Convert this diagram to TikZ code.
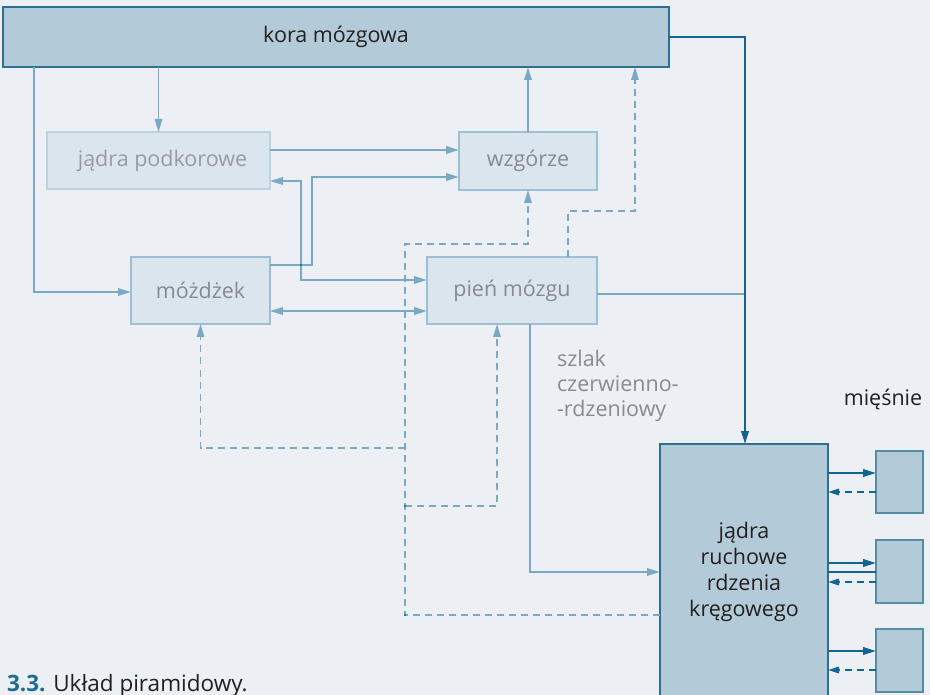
\documentclass[tikz,border=0pt]{standalone}
\usepackage{fontspec}
\setmainfont{Open Sans}
\usetikzlibrary{arrows.meta}
\definecolor{bgc}{HTML}{ECF0F5}
\definecolor{darkfill}{HTML}{B3CBD8}
\definecolor{darkedge}{HTML}{2C6F90}
\definecolor{lightfill}{HTML}{DAE5EE}
\definecolor{lightedge}{HTML}{9CC0D2}
\definecolor{paleedge}{HTML}{B9D3E0}
\definecolor{lb}{HTML}{7AAAC3}
\definecolor{dk}{HTML}{11668F}
\definecolor{greytxt}{HTML}{868B90}
\definecolor{blacktxt}{HTML}{231F20}
\definecolor{capblue}{HTML}{1B6B92}
\tikzset{
  every node/.style={inner sep=0pt, outer sep=0pt},
  txt/.style={font=\fontsize{21.5}{26}\selectfont},
  darkbox/.style={draw=darkedge, fill=darkfill, line width=1.5pt, rectangle, txt, text=blacktxt},
  lightbox/.style={draw=lightedge, fill=lightfill, line width=1.5pt, rectangle, txt, text=greytxt},
  musbox/.style={draw=darkedge!80, fill=darkfill, line width=1.5pt, rectangle, minimum width=47pt, minimum height=62pt},
  la/.style={draw=lb, line width=1.6pt, -{Triangle[length=13pt,width=7.5pt]}},
  lathick/.style={draw=lb, line width=2.1pt, -{Triangle[length=13pt,width=7.5pt]}},
  lboth/.style={draw=lb, line width=2.2pt, {Triangle[length=13pt,width=7.5pt]}-{Triangle[length=13pt,width=7.5pt]}},
  lline/.style={draw=lb, line width=1.8pt},
  ld/.style={draw=lb, line width=1.5pt, dash pattern=on 7pt off 5pt, -{Triangle[length=13pt,width=7.5pt]}},
  da/.style={draw=dk, line width=2.2pt, -{Triangle[length=13pt,width=7.5pt]}},
  dline/.style={draw=dk, line width=2.2pt},
  dd/.style={draw=dk, line width=1.6pt, dash pattern=on 7pt off 5pt, -{Triangle[length=11pt,width=6.5pt]}},
}
\begin{document}
\begin{tikzpicture}[x=1pt,y=-1pt]
\fill[bgc] (0,0) rectangle (930,695);
\useasboundingbox (0,0) rectangle (930,695);

% helper coordinates
\coordinate (X34) at (34,0);
\coordinate (X301) at (301,0);
\coordinate (X312) at (312,0);
\coordinate (X405) at (405,0);
\coordinate (X497) at (497,0);
\coordinate (X530) at (530,0);
\coordinate (X568) at (568,0);
\coordinate (X635) at (635,0);
\coordinate (X745) at (745,0);
\coordinate (Y150) at (0,150);
\coordinate (Y177) at (0,177);
\coordinate (Y181) at (0,181);
\coordinate (Y211) at (0,211);
\coordinate (Y244) at (0,244);
\coordinate (Y265) at (0,265);
\coordinate (Y280) at (0,280);
\coordinate (Y292) at (0,292);
\coordinate (Y294) at (0,294);
\coordinate (Y311) at (0,311);
\coordinate (Y448) at (0,448);
\coordinate (Y473) at (0,473);
\coordinate (Y492) at (0,492);
\coordinate (Y506) at (0,506);
\coordinate (Y563) at (0,563);
\coordinate (Y572) at (0,572);
\coordinate (Y582) at (0,582);
\coordinate (Y615) at (0,615);
\coordinate (Y651) at (0,651);
\coordinate (Y670) at (0,670);

% boxes
\node[darkbox, minimum width=666pt, minimum height=60pt] (kora) at (336,37) {kora mózgowa};
\node[lightbox, draw=paleedge, minimum width=223pt, minimum height=57pt, text=greytxt!85] (podk) at (158.5,160.5) {\hspace{8pt}jądra podkorowe};
\node[lightbox, minimum width=138pt, minimum height=58pt] (wzg) at (528,161) {wzgórze};
\node[lightbox, minimum width=139pt, minimum height=67pt] (mozd) at (200.5,290.5) {móżdżek};
\node[lightbox, minimum width=170pt, minimum height=67pt] (pien) at (512,290.5) {pień mózgu};
\node[darkbox, minimum width=168pt, minimum height=256pt, align=center] (rdzen) at (744,572) {jądra\\ruchowe\\rdzenia\\kręgowego};
\node[musbox] (mus1) at (899.5,482) {};
\node[musbox, minimum height=63pt] (mus2) at (899.5,571.5) {};
\node[musbox, minimum height=63pt] (mus3) at (899.5,660.5) {};

% labels
\node[txt, text=blacktxt] (miesnie) at (883,399) {mięśnie};
\node[text=greytxt, align=left, anchor=north west, font=\fontsize{21.5}{25}\selectfont] (szlak) at (557,350) {szlak\\czerwienno-\\-rdzeniowy};
\node[anchor=base west, font=\fontsize{22.5}{27}\selectfont] (caption) at (7,691) {\textcolor{capblue}{\bfseries 3.3.} \textcolor{blacktxt}{Układ piramidowy.}};

% light solid connectors
\draw[la] (kora.south -| X34) |- (mozd.west |- Y292);
\draw[la] (kora.south -| podk.north) -- (podk.north);
\draw[lathick] (podk.east |- Y150) -- (wzg.west |- Y150);
\draw[la] (wzg.north) -- (kora.south -| wzg.north);
\draw[lathick] (mozd.east |- Y265) -| (X312 |- Y177) -- (wzg.west |- Y177);
\draw[la] (X301 |- Y265) |- (podk.east |- Y181);
\draw[la] (X301 |- Y265) |- (pien.west |- Y280);
\draw[lboth] (mozd.east |- Y311) -- (pien.west |- Y311);
\draw[lline] (pien.east |- Y294) -- (X745 |- Y294);
\draw[la] (pien.south -| X530) |- (rdzen.west |- Y572);

% light dashed connectors
\draw[ld] (pien.north -| X568) |- (X635 |- Y211) -- (kora.south -| X635);
\draw[ld] (rdzen.west |- Y615) -| (X405 |- Y244) -| (wzg.south);
\draw[ld] (X405 |- Y448) -| (mozd.south);
\draw[ld] (X405 |- Y506) -| (pien.south -| X497);

% dark connectors
\draw[da] (kora.east) -| (rdzen.north -| X745);
\draw[da] (rdzen.east |- Y473) -- (mus1.west |- Y473);
\draw[dd] (mus1.west |- Y492) -- (rdzen.east |- Y492);
\draw[da] (rdzen.east |- Y563) -- (mus2.west |- Y563);
\draw[dline] (rdzen.east |- Y572) -- (mus2.west |- Y572);
\draw[dd] (mus2.west |- Y582) -- (rdzen.east |- Y582);
\draw[da] (rdzen.east |- Y651) -- (mus3.west |- Y651);
\draw[dd] (mus3.west |- Y670) -- (rdzen.east |- Y670);

% junction dots
\fill[dk] (X301 |- Y265) circle (1.2pt);
\fill[dk] (X405 |- Y506) circle (1.2pt);
\fill[dk] (X405 |- Y615) circle (1.2pt);
\end{tikzpicture}
\end{document}
